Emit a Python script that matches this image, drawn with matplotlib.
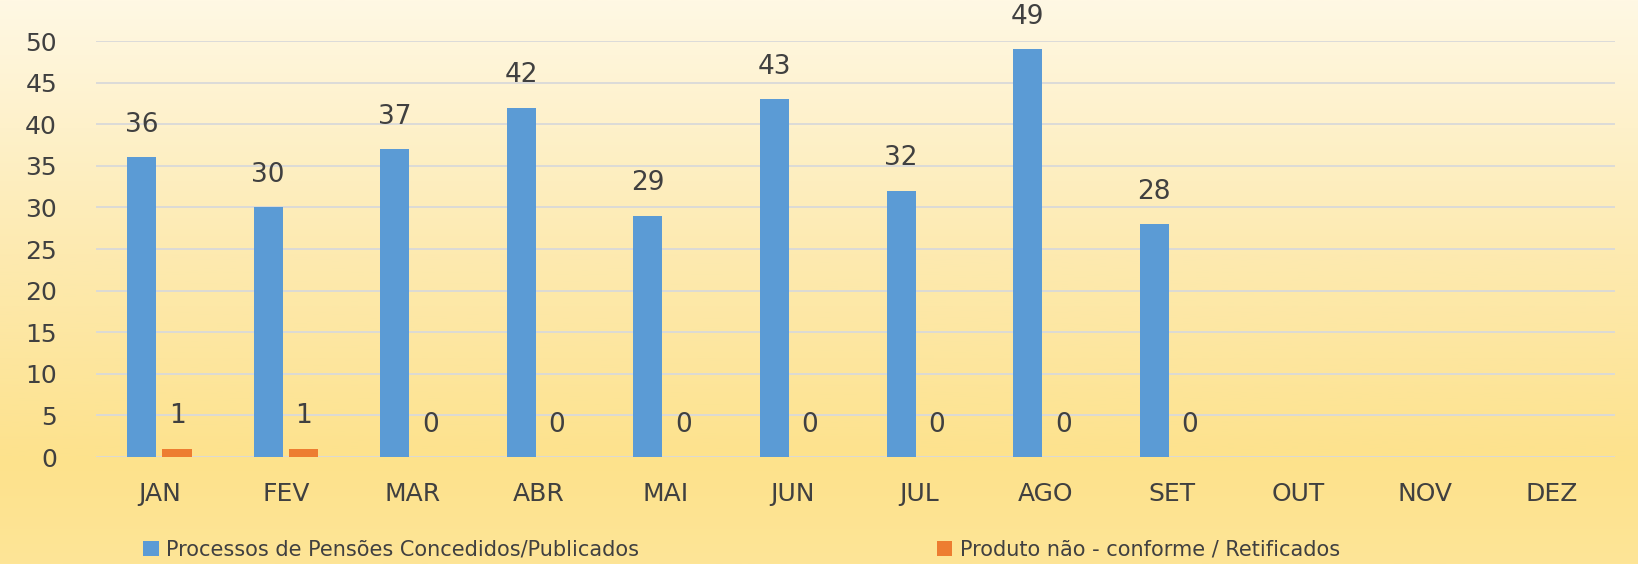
import numpy as np
import matplotlib
matplotlib.use("Agg")
import matplotlib.pyplot as plt
from matplotlib.colors import LinearSegmentedColormap

months = ["JAN", "FEV", "MAR", "ABR", "MAI", "JUN", "JUL", "AGO", "SET", "OUT", "NOV", "DEZ"]
concedidos = [36, 30, 37, 42, 29, 43, 32, 49, 28]
retificados = [1, 1, 0, 0, 0, 0, 0, 0, 0]
serie1 = "Processos de Pensões Concedidos/Publicados"
serie2 = "Produto não - conforme / Retificados"

text_color = "#404040"
plt.rcParams["font.family"] = ["DejaVu Sans"]

fig = plt.figure(figsize=(16.38, 5.64), dpi=100)

# background gradient
bg = fig.add_axes([0, 0, 1, 1], zorder=-10)
cmap = LinearSegmentedColormap.from_list(
    "bg", [(0.0, "#fff8e4"), (0.45, "#fdeab0"), (0.82, "#fde28c"), (1.0, "#fee597")])
grad = np.linspace(0, 1, 256).reshape(-1, 1)
bg.imshow(grad, aspect="auto", cmap=cmap, extent=[0, 1, 0, 1], origin="upper")
bg.set_axis_off()

ax = fig.add_axes([0.0586, 0.1897, 0.9274, 0.7376])
ax.set_facecolor("none")

w = 0.23
off = 0.14
x1 = np.arange(len(concedidos))
x2 = np.arange(len(retificados))
b1 = ax.bar(x1 - off, concedidos, width=w, color="#5b9bd5", label=serie1, zorder=3)
b2 = ax.bar(x2 + off, retificados, width=w, color="#ed7d31", label=serie2, zorder=3)
ax.bar_label(b1, labels=[str(v) for v in concedidos], padding=14, fontsize=19, color=text_color)
ax.bar_label(b2, labels=[str(v) for v in retificados], padding=14, fontsize=19, color=text_color)

ax.set_xlim(-0.5, len(months) - 0.5)
ax.set_ylim(0, 50)
ax.set_yticks(np.arange(0, 51, 5))
ax.set_xticks(np.arange(len(months)))
ax.set_xticklabels(months)
ax.tick_params(axis="y", length=0, pad=28, labelsize=18, labelcolor=text_color)
ax.tick_params(axis="x", length=0, pad=18, labelsize=18, labelcolor=text_color)
ax.yaxis.grid(True, color="#d9d9d9", linewidth=1.3, zorder=0)
ax.set_axisbelow(True)
for s in ax.spines.values():
    s.set_visible(False)

leg = fig.legend(handles=[b1, b2], loc="center left", bbox_to_anchor=(143 / 1638, 0.025), ncol=2,
                 frameon=False, fontsize=15, handlelength=0.75, handleheight=0.75,
                 handletextpad=0.35, columnspacing=14.3, borderpad=0, borderaxespad=0,
                 labelcolor=text_color)

fig.savefig("out.png", dpi=100)
